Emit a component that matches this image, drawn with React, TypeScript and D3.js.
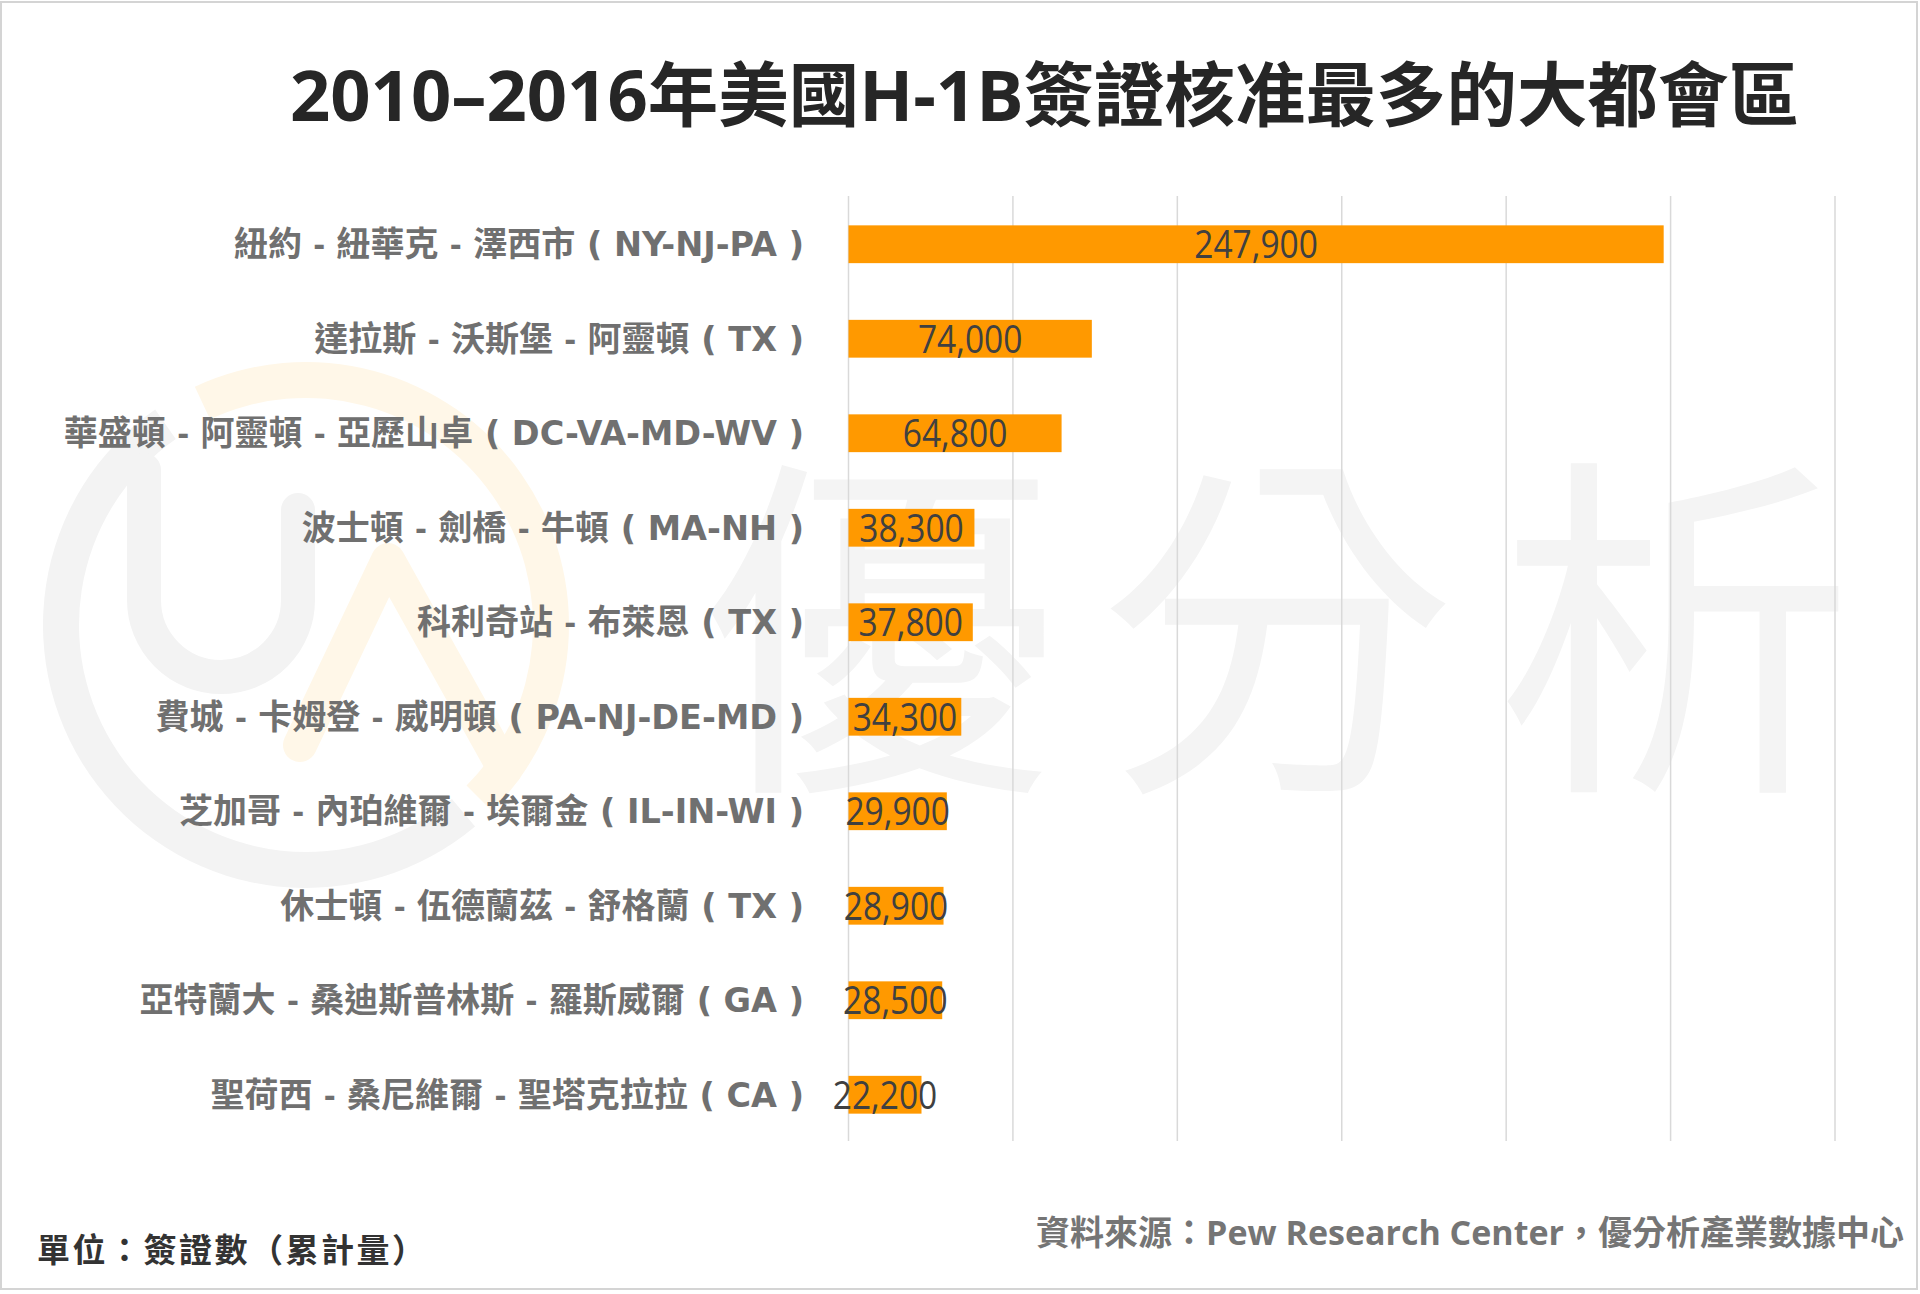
import React from "react";
import * as d3 from "d3";

const categories = [
  "紐約 - 紐華克 - 澤西市 ( NY-NJ-PA )",
  "達拉斯 - 沃斯堡 - 阿靈頓 ( TX )",
  "華盛頓 - 阿靈頓 - 亞歷山卓 ( DC-VA-MD-WV )",
  "波士頓 - 劍橋 - 牛頓 ( MA-NH )",
  "科利奇站 - 布萊恩 ( TX )",
  "費城 - 卡姆登 - 威明頓 ( PA-NJ-DE-MD )",
  "芝加哥 - 內珀維爾 - 埃爾金 ( IL-IN-WI )",
  "休士頓 - 伍德蘭茲 - 舒格蘭 ( TX )",
  "亞特蘭大 - 桑迪斯普林斯 - 羅斯威爾 ( GA )",
  "聖荷西 - 桑尼維爾 - 聖塔克拉拉 ( CA )",
];
const values = [247900, 74000, 64800, 38300, 37800, 34300, 29900, 28900, 28500, 22200];
const gridTicks = [0, 50000, 100000, 150000, 200000, 250000, 300000];
const title = "2010–2016年美國H-1B簽證核准最多的大都會區";
const unitNote = "單位：簽證數（累計量）";
const sourceNote = "資料來源：Pew Research Center，優分析產業數據中心";
const watermarkText = "優分析";

const W = 1920;
const H = 1294;
const FONT = "'Open Sans', 'Noto Sans CJK TC', sans-serif";
const CJK = "'Noto Sans CJK TC', sans-serif";
const WIDE = "'DejaVu Sans', 'Open Sans', sans-serif";

export default function App() {
  const x = d3.scaleLinear().domain([0, 300000]).range([848.5, 1835]);
  const y = d3
    .scaleBand<string>()
    .domain(categories)
    .range([197, 1142])
    .paddingInner(0.6)
    .paddingOuter(0.3);
  const fmt = d3.format(",");

  // watermark logo geometry
  const cx = 306;
  const cy = 625;
  const r = 245;
  const grayArc = d3.arc()({
    innerRadius: r - 18,
    outerRadius: r + 18,
    startAngle: (140 * Math.PI) / 180,
    endAngle: (325 * Math.PI) / 180,
  } as any) as string;
  const orangeArc = d3.arc()({
    innerRadius: r - 18,
    outerRadius: r + 18,
    startAngle: (-25 * Math.PI) / 180,
    endAngle: (135 * Math.PI) / 180,
  } as any) as string;
  const uPath = d3.path();
  uPath.moveTo(144, 470);
  uPath.lineTo(144, 600);
  uPath.arc(221, 600, 77, Math.PI, 0, true);
  uPath.lineTo(298, 510);
  const aPath = d3.path();
  aPath.moveTo(300, 745);
  aPath.lineTo(388, 560);
  aPath.lineTo(505, 770);

  return (
    <svg width={W} height={H} style={{ display: "block", position: "absolute", left: 0, top: 0 }}>
      <rect x={0} y={0} width={W} height={H} fill="#ffffff" />
      <rect x={1} y={2} width={1916} height={1287} fill="none" stroke="#d4d4d4" strokeWidth={2} />

      {/* watermark */}
      <g>
        <path d={grayArc} transform={`translate(${cx},${cy})`} fill="#f3f3f3" />
        <path d={orangeArc} transform={`translate(${cx},${cy})`} fill="#fff7e8" />
        <path d={uPath.toString()} fill="none" stroke="#f3f3f3" strokeWidth={34} strokeLinecap="round" />
        <path d={aPath.toString()} fill="none" stroke="#fff7e8" strokeWidth={34} strokeLinecap="round" strokeLinejoin="round" />
        <text
          x={700}
          y={764}
          fontFamily={CJK}
          fontSize={358}
          fontWeight={400}
          fill="#f4f4f4"
          letterSpacing={40}
        >
          {watermarkText}
        </text>
      </g>

      {/* title */}
      <text x={290} y={121} fontFamily={FONT} fontSize={70.5} fontWeight={700} fill="#262626">
        {title}
      </text>

      {/* grid */}
      <g>
        {gridTicks.map((t) => (
          <line key={t} x1={x(t)} x2={x(t)} y1={196} y2={1141} stroke="#d9d9d9" strokeWidth={1.5} />
        ))}
      </g>

      {/* bars */}
      <g>
        {categories.map((c, i) => (
          <rect key={c} x={x(0)} y={y(c)} width={x(values[i]) - x(0)} height={y.bandwidth()} fill="#ff9900" />
        ))}
      </g>

      {/* value labels */}
      <g>
        {categories.map((c, i) => (
          <text
            key={c}
            transform={`translate(${(x(0) + x(values[i])) / 2},${(y(c) as number) + y.bandwidth() / 2}) scale(0.86,1)`}
            dy="0.36em"
            textAnchor="middle"
            fontFamily={FONT}
            fontSize={39}
            fill="#404040"
          >
            {fmt(values[i])}
          </text>
        ))}
      </g>

      {/* category labels */}
      <g>
        {categories.map((c) => {
          const k = c.indexOf("(");
          const head = c.slice(0, k);
          const tail = c.slice(k);
          return (
            <text
              key={c}
              x={804}
              y={(y(c) as number) + y.bandwidth() / 2}
              dy="0.36em"
              textAnchor="end"
              fontFamily={FONT}
              fontSize={34}
              fontWeight={700}
              fill="#707070"
            >
              <tspan wordSpacing={3}>{head}</tspan>
              <tspan fontFamily={WIDE} fontSize={33.5}>{tail}</tspan>
            </text>
          );
        })}
      </g>

      {/* footer */}
      <text x={37} y={1262} fontFamily={FONT} fontSize={33} fontWeight={700} fill="#333333" letterSpacing={2.5}>
        {unitNote}
      </text>
      <text x={1904} y={1245} textAnchor="end" fontFamily={FONT} fontSize={34} fontWeight={700} fill="#757575">
        {sourceNote}
      </text>
    </svg>
  );
}
